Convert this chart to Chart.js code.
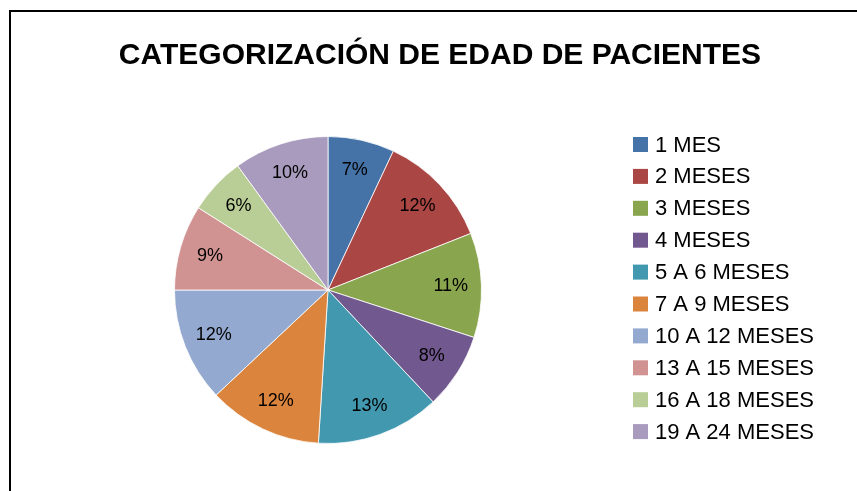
<!DOCTYPE html>
<html>
<head>
<meta charset="utf-8">
<script src="https://cdn.jsdelivr.net/npm/chart.js@4.4.1/dist/chart.umd.min.js"></script>
<style>
  html, body { margin: 0; padding: 0; background: #fff; }
  #wrap { width: 857px; height: 491px; }
</style>
</head>
<body>
<div id="wrap"><canvas id="pieChart" width="857" height="491"></canvas></div>
<script>
// Datos
const categorias = ['1 MES', '2 MESES', '3 MESES', '4 MESES', '5 A 6 MESES', '7 A 9 MESES',
    '10 A 12 MESES', '13 A 15 MESES', '16 A 18 MESES', '19 A 24 MESES'];
const porcentajes = [7, 12, 11, 8, 13, 12, 12, 9, 6, 10];
const colores = ['#4572A7', '#AA4643', '#89A54E', '#71588F', '#4198AF',
    '#DB843D', '#93A9CF', '#D19392', '#B9CD96', '#A99BBD'];
const titulo = 'CATEGORIZACIÓN DE EDAD DE PACIENTES';

// Marco, título, leyenda y etiquetas
const decoracion = {
    id: 'decoracion',
    beforeDraw(chart) {
        const ctx = chart.ctx;
        ctx.save();
        ctx.fillStyle = '#fff';
        ctx.fillRect(0, 0, chart.width, chart.height);
        ctx.restore();
    },
    afterDraw(chart) {
        const ctx = chart.ctx;
        ctx.save();

        // marco
        ctx.strokeStyle = '#000';
        ctx.lineWidth = 2;
        ctx.beginPath();
        ctx.moveTo(10, chart.height);
        ctx.lineTo(10, 11);
        ctx.lineTo(chart.width, 11);
        ctx.stroke();

        // título
        ctx.fillStyle = '#000';
        ctx.font = 'bold 30px "Liberation Sans", Arial, sans-serif';
        ctx.textAlign = 'center';
        ctx.textBaseline = 'middle';
        ctx.fillText(titulo, 440, 56);

        // etiquetas de porcentaje
        const meta = chart.getDatasetMeta(0);
        ctx.font = '18px "Liberation Sans", Arial, sans-serif';
        meta.data.forEach((arc, i) => {
            const p = arc.getProps(['x', 'y', 'startAngle', 'endAngle', 'outerRadius']);
            const mid = (p.startAngle + p.endAngle) / 2;
            const r = p.outerRadius * 0.8;
            ctx.fillText(porcentajes[i] + '%', p.x + Math.cos(mid) * r, p.y + Math.sin(mid) * r);
        });

        // leyenda
        ctx.font = '22px "Liberation Sans", Arial, sans-serif';
        ctx.textAlign = 'left';
        categorias.forEach((cat, i) => {
            const y = 144.5 + i * 31.9;
            ctx.fillStyle = colores[i];
            ctx.fillRect(633, y - 7.5, 15, 15);
            ctx.fillStyle = '#000';
            ctx.fillText(cat, 655, y + 1);
        });
        ctx.restore();
    }
};

new Chart(document.getElementById('pieChart'), {
    type: 'pie',
    data: {
        labels: categorias,
        datasets: [{
            data: porcentajes,
            backgroundColor: colores,
            borderColor: 'rgba(255,255,255,0.8)',
            borderWidth: 1
        }]
    },
    options: {
        responsive: false,
        animation: false,
        layout: { padding: { left: 174, right: 375, top: 136, bottom: 47 } },
        plugins: {
            legend: { display: false },
            title: { display: false },
            tooltip: { enabled: false }
        }
    },
    plugins: [decoracion]
});
</script>
</body>
</html>
